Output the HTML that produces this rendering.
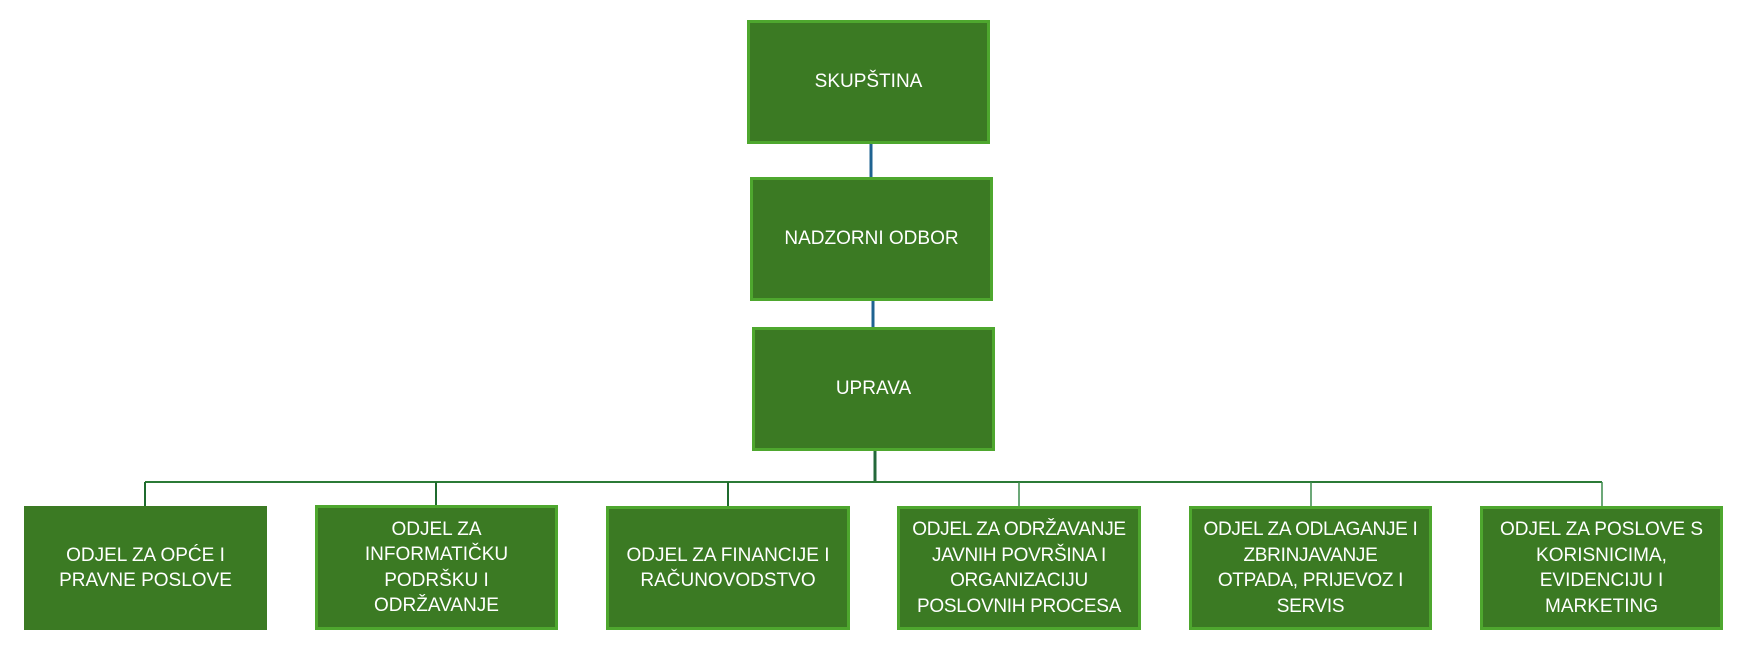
<!DOCTYPE html>
<html><head><meta charset="utf-8"><style>
body{margin:0;width:1740px;height:650px;background:#fff;position:relative;overflow:hidden;font-family:"Liberation Sans",sans-serif;}
.b{position:absolute;box-sizing:border-box;background:#3b7a23;border:3px solid #4ea72e;color:#fff;display:flex;align-items:center;justify-content:center;text-align:center;font-size:19px;line-height:25.5px;white-space:nowrap;}
.nb{border:none;}
svg{position:absolute;left:0;top:0;}
</style></head><body>
<svg width="1740" height="650">
<line x1="871" y1="143" x2="871" y2="178" stroke="#1f6391" stroke-width="3"/>
<line x1="873" y1="300" x2="873" y2="328" stroke="#1f6391" stroke-width="3"/>
<line x1="875" y1="450" x2="875" y2="483" stroke="#23683a" stroke-width="3"/>
<line x1="145" y1="482" x2="1602" y2="482" stroke="#2b7a36" stroke-width="2"/>
<line x1="145" y1="482" x2="145" y2="507" stroke="#1f6b2e" stroke-width="2"/>
<line x1="436" y1="482" x2="436" y2="506" stroke="#1f6b2e" stroke-width="2"/>
<line x1="728" y1="482" x2="728" y2="507" stroke="#1f6b2e" stroke-width="2"/>
<line x1="1019" y1="482" x2="1019" y2="507" stroke="#3a8a4a" stroke-width="1.5"/>
<line x1="1311" y1="482" x2="1311" y2="507" stroke="#3a8a4a" stroke-width="1.5"/>
<line x1="1602" y1="482" x2="1602" y2="507" stroke="#3a8a4a" stroke-width="1.5"/>
</svg>
<div class="b" style="left:747px;top:20px;width:243px;height:124px;">SKUPŠTINA</div>
<div class="b" style="left:750px;top:177px;width:243px;height:124px;">NADZORNI ODBOR</div>
<div class="b" style="left:752px;top:327px;width:243px;height:124px;">UPRAVA</div>
<div class="b nb" style="left:24px;top:506px;width:243px;height:124px;">ODJEL ZA OPĆE I<br>PRAVNE POSLOVE</div>
<div class="b" style="left:315px;top:505px;width:243px;height:125px;">ODJEL ZA<br>INFORMATIČKU<br>PODRŠKU I<br>ODRŽAVANJE</div>
<div class="b" style="left:606px;top:506px;width:244px;height:124px;">ODJEL ZA FINANCIJE I<br>RAČUNOVODSTVO</div>
<div class="b" style="left:897px;top:506px;width:244px;height:124px;letter-spacing:-0.3px;">ODJEL ZA ODRŽAVANJE<br>JAVNIH POVRŠINA I<br>ORGANIZACIJU<br>POSLOVNIH PROCESA</div>
<div class="b" style="left:1189px;top:506px;width:243px;height:124px;letter-spacing:-0.3px;">ODJEL ZA ODLAGANJE I<br>ZBRINJAVANJE<br>OTPADA, PRIJEVOZ I<br>SERVIS</div>
<div class="b" style="left:1480px;top:506px;width:243px;height:124px;">ODJEL ZA POSLOVE S<br>KORISNICIMA,<br>EVIDENCIJU I<br>MARKETING</div>
</body></html>
